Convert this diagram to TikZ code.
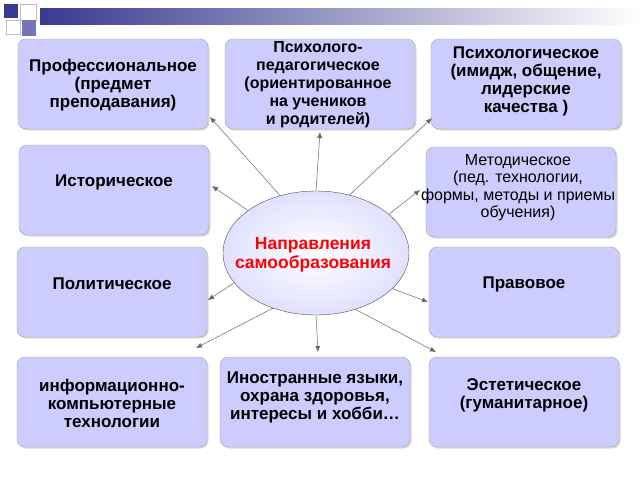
\documentclass[tikz,border=0pt]{standalone}
\usepackage{fontspec}
\setmainfont{Liberation Sans}
\usetikzlibrary{shadows,arrows.meta,shapes.geometric}
\definecolor{boxf}{HTML}{CCCCFF}
\definecolor{deco}{HTML}{3A3A90}
\begin{document}
\begin{tikzpicture}[x=1pt,y=-1pt,
 box/.style={draw=gray!70,fill=boxf,rounded corners=8pt,minimum width=190pt,minimum height=90pt,
   drop shadow={shadow xshift=1.5pt,shadow yshift=-1.5pt,fill=gray!60},align=center,inner sep=0pt},
 tx/.style={align=center,inner sep=0pt,font=\bfseries\fontsize{17pt}{18pt}\selectfont},
 arr/.style={draw=gray!80!black,line width=0.5pt,-{Latex[length=6pt,width=5pt]}}]
\useasboundingbox (0,0) rectangle (640,480);
% decoration
\shade[left color=deco,right color=white] (40,8) rectangle (640,24);
\fill[deco] (4,4) rectangle (18,18);
\fill[white,draw=gray!50] (20,4) rectangle (36,20);
\fill[deco!70] (22,20) rectangle (36,36);
\fill[white,draw=gray!50] (6,20) rectangle (20,34);
% boxes
\node[box] (b1) at (113,84) {};
\node[tx,anchor=north] (t1) at (113,59) {Профессиональное\\(предмет\\преподавания)};
\node[box] (b2) at (320,84) {};
\node[tx,anchor=north,font=\bfseries\fontsize{16pt}{18pt}\selectfont] (t2) at (318,41) {Психолого-\\педагогическое\\(ориентированное\\на учеников\\и родителей)};
\node[box] (b3) at (526,84) {};
\node[tx,anchor=north] (t3) at (526,47) {Психологическое\\(имидж, общение,\\лидерские\\качества )};
\node[box] (b4) at (114,190) {};
\node[tx] (t4) at (114,182) {Историческое};
\node[box] (b5) at (521,192) {};
\node[tx,anchor=north,font=\fontsize{16pt}{17.5pt}\selectfont] (t5) at (518,154) {Методическое\\(пед. технологии,\\формы, методы и приемы\\обучения)};
\node[box] (b6) at (112,292) {};
\node[tx] (t6) at (112,284) {Политическое};
\node[box] (b7) at (524,292) {};
\node[tx] (t7) at (524,284) {Правовое};
\node[box] (b8) at (112,402) {};
\node[tx] (t8) at (112,403) {информационно-\\компьютерные\\технологии};
\node[box] (b9) at (315,402) {};
\node[tx] (t9) at (315,397) {Иностранные языки,\\охрана здоровья,\\интересы и хобби…};
\node[box] (b10) at (524,402) {};
\node[tx] (t10) at (524,395) {Эстетическое\\(гуманитарное)};
% center
\node[draw=gray!60!black,ellipse,inner color=white,outer color=boxf!60,minimum width=186pt,minimum height=124pt] (c) at (316,253) {};
\node[tx,text=red,font=\bfseries\fontsize{17.5pt}{19pt}\selectfont] (ct) at (313,255) {Направления\\самообразования};
% arrows
\coordinate (a1) at (210,117); \coordinate (a2) at (320,132); \coordinate (a3) at (432,118);
\coordinate (a4) at (212,186); \coordinate (a5) at (420,190); \coordinate (a6) at (208,300);
\coordinate (a7) at (428,302); \coordinate (a8) at (196,348); \coordinate (a9) at (318,352);
\coordinate (a10) at (436,352);
\draw[arr] (c.122) -- (a1);
\draw[arr] (c.north) -- (a2);
\draw[arr] (c.60) -- (a3);
\draw[arr] (c.148) -- (a4);
\draw[arr] (c.28) -- (a5);
\draw[arr] (c.200) -- (a6);
\draw[arr] (c.335) -- (a7);
\draw[arr] (c.232) -- (a8);
\draw[arr] (c.south) -- (a9);
\draw[arr] (c.305) -- (a10);
\end{tikzpicture}
\end{document}
